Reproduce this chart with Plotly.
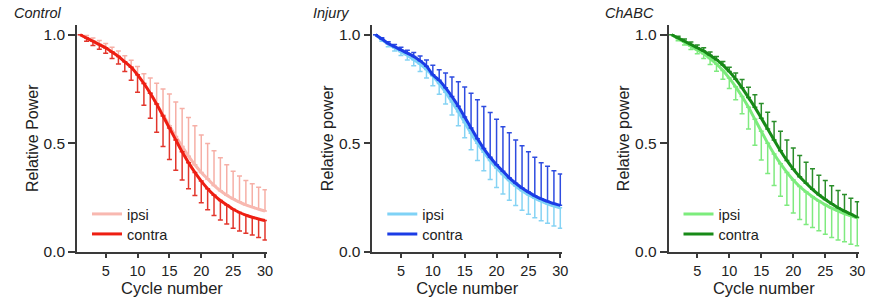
import plotly.graph_objects as go

cycles = list(range(1, 31))

# Control
control_ipsi = [1.0, 0.985, 0.97, 0.955, 0.94, 0.92, 0.90, 0.875, 0.85, 0.815, 0.775, 0.73, 0.68, 0.63, 0.58,
                0.53, 0.485, 0.44, 0.40, 0.365, 0.335, 0.305, 0.28, 0.26, 0.243, 0.228, 0.215, 0.205, 0.195, 0.187]
control_ipsi_err = [0, 0.012, 0.015, 0.018, 0.02, 0.022, 0.025, 0.028, 0.032, 0.038, 0.045, 0.07, 0.096, 0.12, 0.147,
                    0.16, 0.175, 0.178, 0.18, 0.172, 0.163, 0.16, 0.153, 0.14, 0.127, 0.12, 0.113, 0.108, 0.102, 0.098]
control_contra = [1.0, 0.985, 0.97, 0.955, 0.94, 0.92, 0.90, 0.875, 0.85, 0.815, 0.775, 0.73, 0.68, 0.625, 0.57,
                  0.515, 0.46, 0.41, 0.365, 0.325, 0.29, 0.26, 0.235, 0.215, 0.195, 0.18, 0.168, 0.158, 0.15, 0.143]
control_contra_err = [0, 0.015, 0.02, 0.022, 0.025, 0.03, 0.035, 0.045, 0.06, 0.08, 0.10, 0.115, 0.13, 0.14, 0.145,
                      0.14, 0.13, 0.12, 0.107, 0.10, 0.097, 0.094, 0.09, 0.088, 0.088, 0.085, 0.084, 0.082, 0.085, 0.09]

# Injury
injury_ipsi = [1.0, 0.978, 0.957, 0.94, 0.922, 0.905, 0.885, 0.865, 0.84, 0.81, 0.775, 0.735, 0.69, 0.645, 0.595,
               0.545, 0.50, 0.458, 0.42, 0.385, 0.355, 0.327, 0.302, 0.28, 0.262, 0.246, 0.232, 0.22, 0.21, 0.202]
injury_ipsi_err = [0, 0.008, 0.012, 0.015, 0.018, 0.022, 0.028, 0.035, 0.04, 0.045, 0.05, 0.055, 0.06, 0.065, 0.07,
                   0.075, 0.08, 0.085, 0.088, 0.09, 0.09, 0.09, 0.09, 0.09, 0.09, 0.09, 0.09, 0.09, 0.092, 0.095]
injury_contra = [1.0, 0.98, 0.96, 0.945, 0.93, 0.915, 0.90, 0.88, 0.855, 0.815, 0.79, 0.755, 0.715, 0.67, 0.62,
                 0.57, 0.52, 0.475, 0.435, 0.40, 0.37, 0.34, 0.315, 0.293, 0.274, 0.257, 0.243, 0.231, 0.221, 0.213]
injury_contra_err = [0, 0.006, 0.008, 0.01, 0.012, 0.014, 0.018, 0.022, 0.028, 0.044, 0.049, 0.068, 0.09, 0.113, 0.139,
                     0.16, 0.18, 0.194, 0.206, 0.21, 0.206, 0.208, 0.2, 0.195, 0.186, 0.178, 0.167, 0.162, 0.152, 0.145]

# ChABC
chabc_ipsi = [1.0, 0.982, 0.965, 0.947, 0.93, 0.912, 0.89, 0.865, 0.835, 0.80, 0.76, 0.715, 0.665, 0.61, 0.555,
              0.50, 0.45, 0.405, 0.365, 0.33, 0.30, 0.275, 0.253, 0.233, 0.216, 0.20, 0.187, 0.175, 0.165, 0.155]
chabc_ipsi_err = [0, 0.01, 0.012, 0.015, 0.018, 0.022, 0.027, 0.033, 0.04, 0.048, 0.06, 0.08, 0.10, 0.12, 0.133,
                  0.14, 0.145, 0.15, 0.152, 0.152, 0.152, 0.15, 0.142, 0.137, 0.136, 0.135, 0.134, 0.13, 0.131, 0.129]
chabc_contra = [1.0, 0.985, 0.97, 0.955, 0.94, 0.925, 0.905, 0.885, 0.86, 0.83, 0.795, 0.755, 0.71, 0.665, 0.615,
                0.565, 0.515, 0.465, 0.42, 0.38, 0.345, 0.315, 0.287, 0.262, 0.24, 0.22, 0.202, 0.186, 0.172, 0.158]
chabc_contra_err = [0, 0.008, 0.01, 0.012, 0.013, 0.015, 0.015, 0.015, 0.017, 0.02, 0.028, 0.038, 0.048, 0.058, 0.068,
                    0.078, 0.085, 0.09, 0.095, 0.097, 0.098, 0.097, 0.095, 0.09, 0.087, 0.083, 0.08, 0.077, 0.074, 0.072]

panel_titles = ["Control", "Injury", "ChABC"]
y_titles = ["Relative Power", "Relative power", "Relative power"]
series_names = ["ipsi", "contra"]
x_ticks = [5, 10, 15, 20, 25, 30]
y_ticks = [0.0, 0.5, 1.0]
y_tick_labels = ["0.0", "0.5", "1.0"]

W, H = 882, 299
FONT = "Liberation Sans, Arial, sans-serif"
AXC = "#3a3a3a"

panels = [
    dict(ipsi=control_ipsi, ipsi_err=control_ipsi_err, contra=control_contra, contra_err=control_contra_err,
         ipsi_up=True, c_ipsi="#F8B8B0", c_contra="#EE1E12", e_ipsi="#F6AFA6", e_contra="#E2362C",
         dom=(77.0, 266.9), title_x=12),
    dict(ipsi=injury_ipsi, ipsi_err=injury_ipsi_err, contra=injury_contra, contra_err=injury_contra_err,
         ipsi_up=False, c_ipsi="#7FD2F6", c_contra="#1B3CE6", e_ipsi="#86D3F4", e_contra="#2E4CE0",
         dom=(372.3, 562.2), title_x=311),
    dict(ipsi=chabc_ipsi, ipsi_err=chabc_ipsi_err, contra=chabc_contra, contra_err=chabc_contra_err,
         ipsi_up=False, c_ipsi="#7CEC7C", c_contra="#178A17", e_ipsi="#7FEA7F", e_contra="#2A8E2A",
         dom=(668.5, 859.2), title_x=603),
]

fig = go.Figure()
y_dom = ((H - 251.5) / H, (H - 25) / H)
zeros = [0] * len(cycles)
legend_rows = [214, 234]

for i, p in enumerate(panels):
    sfx = "" if i == 0 else str(i + 1)
    x0, x1 = p["dom"]
    legs = []
    for k in range(2):
        n = 2 * i + k + 1
        leg = "legend" if n == 1 else "legend" + str(n)
        legs.append(leg)
        fig.update_layout(**{leg: dict(x=(x0 + 10) / W, y=(H - legend_rows[k]) / H, xanchor="left",
                                       yanchor="middle", bgcolor="rgba(0,0,0,0)",
                                       font=dict(family=FONT, size=14.5, color="#222"), itemwidth=30)})
    # ipsi
    if p["ipsi_up"]:
        ey = dict(type="data", symmetric=False, array=p["ipsi_err"], arrayminus=zeros,
                  color=p["e_ipsi"], thickness=1.5, width=2.5)
    else:
        ey = dict(type="data", symmetric=False, array=zeros, arrayminus=p["ipsi_err"],
                  color=p["e_ipsi"], thickness=1.5, width=2.5)
    fig.add_trace(go.Scatter(x=cycles, y=p["ipsi"], mode="lines", name=series_names[0],
                             line=dict(color=p["c_ipsi"], width=3, shape="spline"),
                             error_y=ey, xaxis="x" + sfx, yaxis="y" + sfx, legend=legs[0]))
    # contra
    if p["ipsi_up"]:
        ey = dict(type="data", symmetric=False, array=zeros, arrayminus=p["contra_err"],
                  color=p["e_contra"], thickness=1.5, width=2.5)
    else:
        ey = dict(type="data", symmetric=False, array=p["contra_err"], arrayminus=zeros,
                  color=p["e_contra"], thickness=1.5, width=2.5)
    fig.add_trace(go.Scatter(x=cycles, y=p["contra"], mode="lines", name=series_names[1],
                             line=dict(color=p["c_contra"], width=3, shape="spline"),
                             error_y=ey, xaxis="x" + sfx, yaxis="y" + sfx, legend=legs[1]))

    xa = dict(domain=[x0 / W, x1 / W], range=[0.5, 30.3], tickmode="array", tickvals=x_ticks,
              ticks="outside", ticklen=5, tickwidth=1.5, tickcolor=AXC, showline=True, linecolor=AXC,
              linewidth=1.5, showgrid=False, zeroline=False, anchor="y" + sfx, automargin=False,
              tickfont=dict(family=FONT, size=14.5, color="#222"),
              title=dict(text="Cycle number", font=dict(family=FONT, size=16.5, color="#222"), standoff=5))
    ya = dict(domain=list(y_dom), range=[0, 1.045], tickmode="array", tickvals=y_ticks, ticktext=y_tick_labels,
              ticks="outside", ticklen=7, tickwidth=1.5, tickcolor=AXC, showline=True, linecolor=AXC,
              linewidth=1.5, showgrid=False, zeroline=False, anchor="x" + sfx, automargin=False,
              tickfont=dict(family=FONT, size=15.5, color="#222"),
              title=dict(text=y_titles[i], font=dict(family=FONT, size=16, color="#222"), standoff=1))
    fig.update_layout(**{"xaxis" + sfx: xa, "yaxis" + sfx: ya})
    fig.add_annotation(text="<i>" + panel_titles[i] + "</i>", x=p["title_x"] / W, y=(H - 13) / H,
                       xref="paper", yref="paper", xanchor="left", yanchor="middle", showarrow=False,
                       font=dict(family=FONT, size=14.5, color="#222"))

fig.update_layout(width=W, height=H, margin=dict(l=0, r=0, t=0, b=0, autoexpand=False), paper_bgcolor="white",
                  plot_bgcolor="white", showlegend=True)

fig.write_html("out.html", config={"displayModeBar": False},
               post_script="document.body.style.margin='0px';document.body.style.overflow='hidden';")
